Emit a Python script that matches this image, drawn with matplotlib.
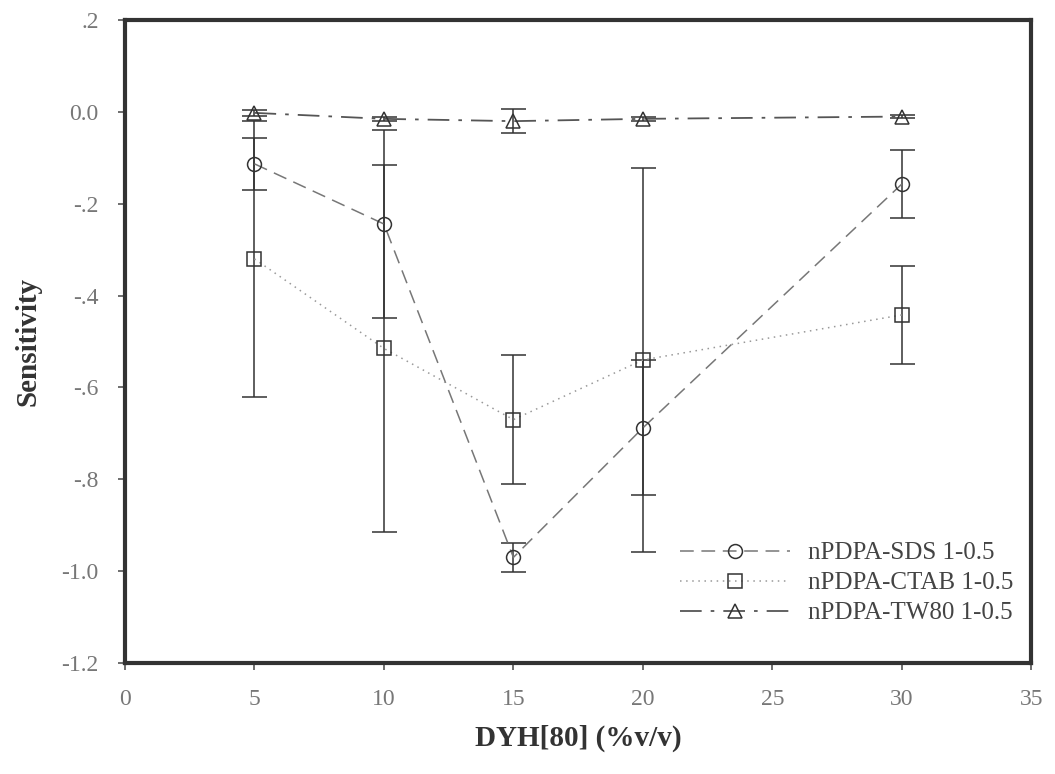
import numpy as np
import matplotlib
matplotlib.use("Agg")
import matplotlib.pyplot as plt
from matplotlib.lines import Line2D

plt.rcParams['font.family'] = ['Liberation Serif', 'DejaVu Serif']

# data
conc = [5, 10, 15, 20, 30]

sds = [-0.113, -0.244, -0.970, -0.688, -0.157]
sds_err = [0.057, 0.205, 0.032, 0.147, 0.074]

ctab = [-0.320, -0.515, -0.670, -0.540, -0.442]
ctab_err = [0.300, 0.400, 0.140, 0.418, 0.107]

tw80 = [-0.002, -0.015, -0.020, -0.015, -0.010]
tw80_err = [0.006, 0.004, 0.026, 0.004, 0.004]

labels = ["nPDPA-SDS 1-0.5", "nPDPA-CTAB 1-0.5", "nPDPA-TW80 1-0.5"]
yticks = [0.2, 0.0, -0.2, -0.4, -0.6, -0.8, -1.0, -1.2]
ytick_labels = [".2", "0.0", "-.2", "-.4", "-.6", "-.8", "-1.0", "-1.2"]
xticks = [0, 5, 10, 15, 20, 25, 30, 35]

fig = plt.figure(figsize=(10.55, 7.74), dpi=100)
ax = fig.add_axes([0.1185, 0.1434, 0.859, 0.8306])

err_kw = dict(ecolor='#333333', elinewidth=1.1, capsize=9, capthick=1.3)
mk_kw = dict(markersize=10, markerfacecolor='none', markeredgecolor='#333333',
             markeredgewidth=1.1)

styles = [
    dict(color='#777777', linestyle=(0, (9, 5)), linewidth=1.1, marker='o'),
    dict(color='#999999', linestyle=(0, (1, 3)), linewidth=1.1, marker='s'),
    dict(color='#555555', linestyle=(0, (12, 5, 2, 5)), linewidth=1.3, marker='^'),
]

series = [(sds, sds_err), (ctab, ctab_err), (tw80, tw80_err)]
handles = []
for (vals, errs), st, lab in zip(series, styles, labels):
    ax.errorbar(conc, vals, yerr=errs, **st, **err_kw, **mk_kw)
    handles.append(Line2D([], [], label=lab, **st, **mk_kw))

ax.set_xlim(0, 35)
ax.set_ylim(-1.2, 0.2)
ax.set_xticks(xticks)
ax.set_xticklabels([str(t) for t in xticks])
ax.set_yticks(yticks)
ax.set_yticklabels(ytick_labels)
ax.tick_params(axis='both', direction='out', length=5, width=1.2, color='#555555',
               labelsize=17, labelcolor='#777777')
ax.tick_params(axis='y', pad=14)
ax.tick_params(axis='x', pad=14)

for s in ax.spines.values():
    s.set_linewidth(3)
    s.set_color('#333333')

ax.set_ylabel("Sensitivity", fontsize=21, fontweight='bold', color='#333333', labelpad=14)
ax.set_xlabel("DYH[80] (%v/v)", fontsize=21, fontweight='bold', color='#333333', labelpad=10)

leg = ax.legend(handles=handles, loc='lower right', bbox_to_anchor=(1.005, 0.025),
                frameon=False, fontsize=18, handlelength=4.4, handletextpad=0.7,
                labelspacing=0.3, labelcolor='#444444')

fig.savefig("out.png", dpi=100)
